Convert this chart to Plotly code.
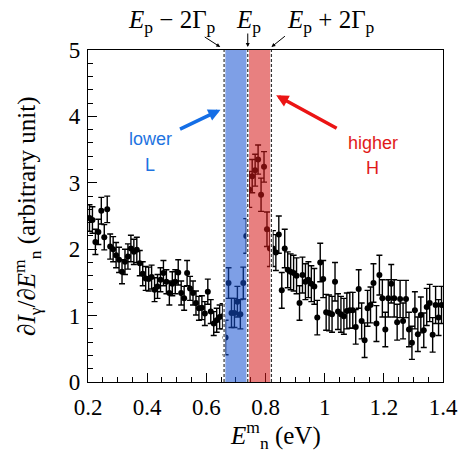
import plotly.graph_objects as go

# ---------------- data ----------------
bin_start = 0.205
bin_width = 0.01

vals_low = [2.47, 2.44, 2.11, 2.26, 2.58, 2.18, 2.60, 2.04, 2.00, 1.91,
            1.84, 1.66, 1.81, 1.89, 2.01, 1.96, 1.99, 1.79, 1.63, 1.56,
            1.55, 1.58, 1.39, 1.44, 1.54, 1.64, 1.51, 1.34, 1.48, 1.51,
            1.65, 1.34, 1.26, 1.64, 1.41, 1.34, 1.19, 1.11, 1.12, 1.03,
            1.36, 1.06, 0.88, 0.93, 0.98, 0.99]
errs_low = [0.20, 0.20, 0.19, 0.19, 0.20, 0.19, 0.20, 0.19, 0.19, 0.19,
            0.19, 0.18, 0.19, 0.19, 0.20, 0.19, 0.19, 0.19, 0.18, 0.18,
            0.18, 0.18, 0.18, 0.18, 0.18, 0.19, 0.18, 0.18, 0.18, 0.18,
            0.19, 0.18, 0.18, 0.19, 0.18, 0.18, 0.18, 0.18, 0.18, 0.18,
            0.19, 0.18, 0.18, 0.18, 0.18, 0.19]

vals_L = [0.67, 1.49, 1.04, 1.04, 1.21, 1.02, 1.49, 2.20]
errs_L = [0.26, 0.23, 0.22, 0.22, 0.23, 0.22, 0.24, 0.26]

vals_H = [2.90, 3.10, 3.19, 3.35, 2.82, 3.24, 2.30, 2.01]
errs_H = [0.27, 0.25, 0.24, 0.22, 0.25, 0.23, 0.26, 0.27]

vals_high = [2.01, 1.95, 2.22, 1.38, 2.01, 1.69, 1.66, 1.64, 1.60, 1.19,
             1.61, 1.51, 1.54, 1.48, 1.44, 0.97, 1.80, 1.55, 1.05, 1.04,
             1.02, 1.51, 1.06, 1.02, 0.99, 1.07, 1.08, 1.08, 0.83, 1.40,
             0.92, 0.63, 1.11, 1.16, 1.49, 0.88, 1.61, 1.26, 0.79, 1.26,
             1.48, 1.26, 0.90, 1.25, 0.92, 1.25, 0.79, 0.59, 1.08, 0.72,
             1.01, 0.78, 1.13, 1.19, 0.71, 1.16, 0.97, 1.16]
errs_high = [0.27, 0.27, 0.28, 0.27, 0.29, 0.27, 0.27, 0.27, 0.27, 0.26,
             0.27, 0.27, 0.27, 0.27, 0.27, 0.26, 0.29, 0.28, 0.27, 0.27,
             0.27, 0.29, 0.27, 0.27, 0.27, 0.27, 0.27, 0.27, 0.26, 0.29,
             0.27, 0.26, 0.27, 0.27, 0.29, 0.27, 0.30, 0.28, 0.26, 0.28,
             0.29, 0.28, 0.27, 0.28, 0.27, 0.28, 0.26, 0.25, 0.28, 0.26,
             0.27, 0.26, 0.28, 0.28, 0.26, 0.28, 0.27, 0.28]

E_p = 0.74
Gamma_p = 0.04
band_edges = [E_p - 2 * Gamma_p, E_p, E_p + 2 * Gamma_p]

x_ticks = [0.2, 0.4, 0.6, 0.8, 1.0, 1.2, 1.4]
x_tick_text = ["0.2", "0.4", "0.6", "0.8", "1", "1.2", "1.4"]
y_ticks = [0, 1, 2, 3, 4, 5]

# ---------------- build ----------------
vals = vals_low + vals_L + vals_H + vals_high
errs = errs_low + errs_L + errs_H + errs_high
xs = [round(bin_start + bin_width * i, 4) for i in range(len(vals))]

SERIF = "Liberation Serif"
SANS = "Liberation Sans"

fig = go.Figure()
fig.add_trace(go.Scatter(
    x=xs, y=vals, mode="markers",
    marker=dict(color="black", size=6),
    error_y=dict(type="data", array=errs, visible=True, color="black",
                 thickness=1.4, width=3),
    showlegend=False, cliponaxis=True,
))

shapes = []
shapes.append(dict(type="rect", xref="x", yref="y", x0=band_edges[0], x1=band_edges[1],
                   y0=0, y1=5, fillcolor="rgb(20,80,210)", opacity=0.55,
                   line=dict(width=0), layer="above"))
shapes.append(dict(type="rect", xref="x", yref="y", x0=band_edges[1], x1=band_edges[2],
                   y0=0, y1=5, fillcolor="rgb(213,24,24)", opacity=0.55,
                   line=dict(width=0), layer="above"))
for xe in band_edges:
    shapes.append(dict(type="line", xref="x", yref="y", x0=xe, x1=xe, y0=0, y1=5,
                       line=dict(color="white", width=2.5), layer="above"))
    shapes.append(dict(type="line", xref="x", yref="y", x0=xe, x1=xe, y0=0, y1=5,
                       line=dict(color="#333333", width=1.2, dash="3px,2px"), layer="above"))

annotations = []
top_font = dict(family=SERIF, size=25, color="black")
annotations.append(dict(x=0.484, y=1.085, xref="x", yref="paper", showarrow=False,
                        xanchor="center", yanchor="middle",
                        text="<i>E</i><sub>p</sub> − 2Γ<sub>p</sub>", font=top_font))
annotations.append(dict(x=0.742, y=1.085, xref="x", yref="paper", showarrow=False,
                        xanchor="center", yanchor="middle",
                        text="<i>E</i><sub>p</sub>", font=top_font))
annotations.append(dict(x=1.02, y=1.085, xref="x", yref="paper", showarrow=False,
                        xanchor="center", yanchor="middle",
                        text="<i>E</i><sub>p</sub> + 2Γ<sub>p</sub>", font=top_font))
for hx, ax_, ay_ in [(band_edges[0] - 0.013, -17, -11), (band_edges[1], 0, -15), (band_edges[2], 15, -12)]:
    annotations.append(dict(x=hx, y=1.009, xref="x", yref="paper", ax=ax_, ay=ay_,
                            showarrow=True, arrowhead=2, arrowsize=0.8, arrowwidth=1,
                            arrowcolor="black", text=""))
annotations.append(dict(x=0.648, y=4.10, xref="x", yref="y", ax=-42, ay=20,
                        showarrow=True, arrowhead=2, arrowsize=0.7, arrowwidth=3.5,
                        arrowcolor="rgb(20,110,230)", text=""))
annotations.append(dict(x=0.836, y=4.32, xref="x", yref="y", ax=62, ay=34,
                        showarrow=True, arrowhead=2, arrowsize=0.7, arrowwidth=3.5,
                        arrowcolor="rgb(235,20,20)", text=""))
lab_font_b = dict(family=SANS, size=18, color="rgb(30,115,225)")
lab_font_r = dict(family=SANS, size=18, color="rgb(225,25,25)")
annotations.append(dict(x=0.41, y=3.66, xref="x", yref="y", showarrow=False, text="lower", font=lab_font_b))
annotations.append(dict(x=0.41, y=3.27, xref="x", yref="y", showarrow=False, text="L", font=lab_font_b))
annotations.append(dict(x=1.162, y=3.60, xref="x", yref="y", showarrow=False, text="higher", font=lab_font_r))
annotations.append(dict(x=1.162, y=3.22, xref="x", yref="y", showarrow=False, text="H", font=lab_font_r))
annotations.append(dict(x=0.527, y=-0.16, xref="paper", yref="paper", showarrow=False,
                        text="<i>E</i><sup>m</sup><sub>n</sub> (eV)",
                        font=dict(family=SERIF, size=25, color="black"),
                        xanchor="center", yanchor="middle"))
annotations.append(dict(x=-0.172, y=0.5, xref="paper", yref="paper", showarrow=False,
                        text="∂<i>I</i><sub>γ</sub>/∂<i>E</i><sup>m</sup><sub>n</sub> (arbitrary unit)",
                        textangle=-90,
                        font=dict(family=SERIF, size=25, color="black"),
                        xanchor="center", yanchor="middle"))

fig.update_layout(
    width=470, height=453,
    margin=dict(l=88, r=18, t=50, b=71),
    paper_bgcolor="white", plot_bgcolor="white",
    shapes=shapes, annotations=annotations,
    xaxis=dict(range=[0.2, 1.4], tickvals=x_ticks, ticktext=x_tick_text,
               ticks="inside", ticklen=9, tickwidth=1, tickcolor="black",
               ticklabelstandoff=4,
               minor=dict(dtick=0.05, tick0=0.2, ticks="inside", ticklen=5, tickcolor="black"),
               showline=True, linecolor="black", linewidth=1.2, mirror=True,
               showgrid=False, zeroline=False,
               tickfont=dict(family=SERIF, size=23, color="black")),
    yaxis=dict(range=[0, 5], tickvals=y_ticks,
               ticks="inside", ticklen=9, tickwidth=1, tickcolor="black",
               ticklabelstandoff=2,
               minor=dict(dtick=0.2, tick0=0, ticks="inside", ticklen=5, tickcolor="black"),
               showline=True, linecolor="black", linewidth=1.2, mirror=True,
               showgrid=False, zeroline=False,
               tickfont=dict(family=SERIF, size=23, color="black")),
)

fig.write_html("out.html")
